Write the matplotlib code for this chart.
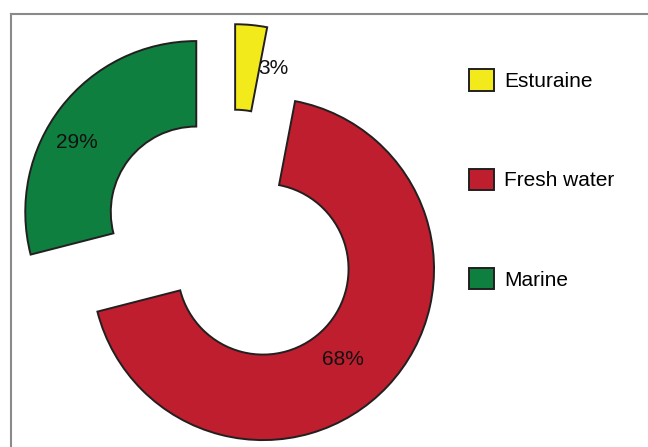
import matplotlib.pyplot as plt
from matplotlib.lines import Line2D

plt.rcParams['font.family'] = ['Liberation Sans', 'DejaVu Sans']

# habitat shares (%)
habitats = ["Esturaine", "Fresh water", "Marine"]
shares = [3, 68, 29]
colors = ["#F3EA1B", "#BE1E2D", "#0F7F3F"]

fig = plt.figure(figsize=(6.48, 4.47), dpi=100)
ax = fig.add_axes([0, 0, 1, 1])

wedges, texts, autotexts = ax.pie(
    shares, colors=colors, startangle=90, counterclock=False,
    explode=[0.257] * 3, radius=1.0, autopct="%d%%", pctdistance=0.76,
    wedgeprops=dict(width=0.5, edgecolor="#231F20", linewidth=1.4),
    textprops=dict(fontsize=15, color="#111111"))

# percentage labels placed like the spreadsheet did
label_pos = [(0.25, 1.0), (0.655, -0.705), (-0.9, 0.565)]
for t, p in zip(autotexts, label_pos):
    t.set_position(p)

# pie centre sits left of the figure middle, radius 171 px
ax.set_xlim(-231 / 171, (648 - 231) / 171)
ax.set_ylim((239 - 447) / 171, 239 / 171)
ax.set_aspect("auto")
ax.axis("off")

leg = ax.legend(wedges, habitats, loc="upper left",
                bbox_to_anchor=(459 / 648, 1 - 59 / 447),
                bbox_transform=fig.transFigure, frameon=False,
                fontsize=15, handlelength=1.2, handleheight=1.2,
                handletextpad=0.45, labelspacing=3.72, borderpad=0)

# gray outline along the top and left edges
fig.add_artist(Line2D([11 / 648, 11 / 648], [0, 1 - 14 / 447],
                      transform=fig.transFigure, color="#8a8a8a", lw=1.5))
fig.add_artist(Line2D([11 / 648, 1], [1 - 14 / 447, 1 - 14 / 447],
                      transform=fig.transFigure, color="#8a8a8a", lw=1.5))

fig.savefig("out.png", dpi=100)
